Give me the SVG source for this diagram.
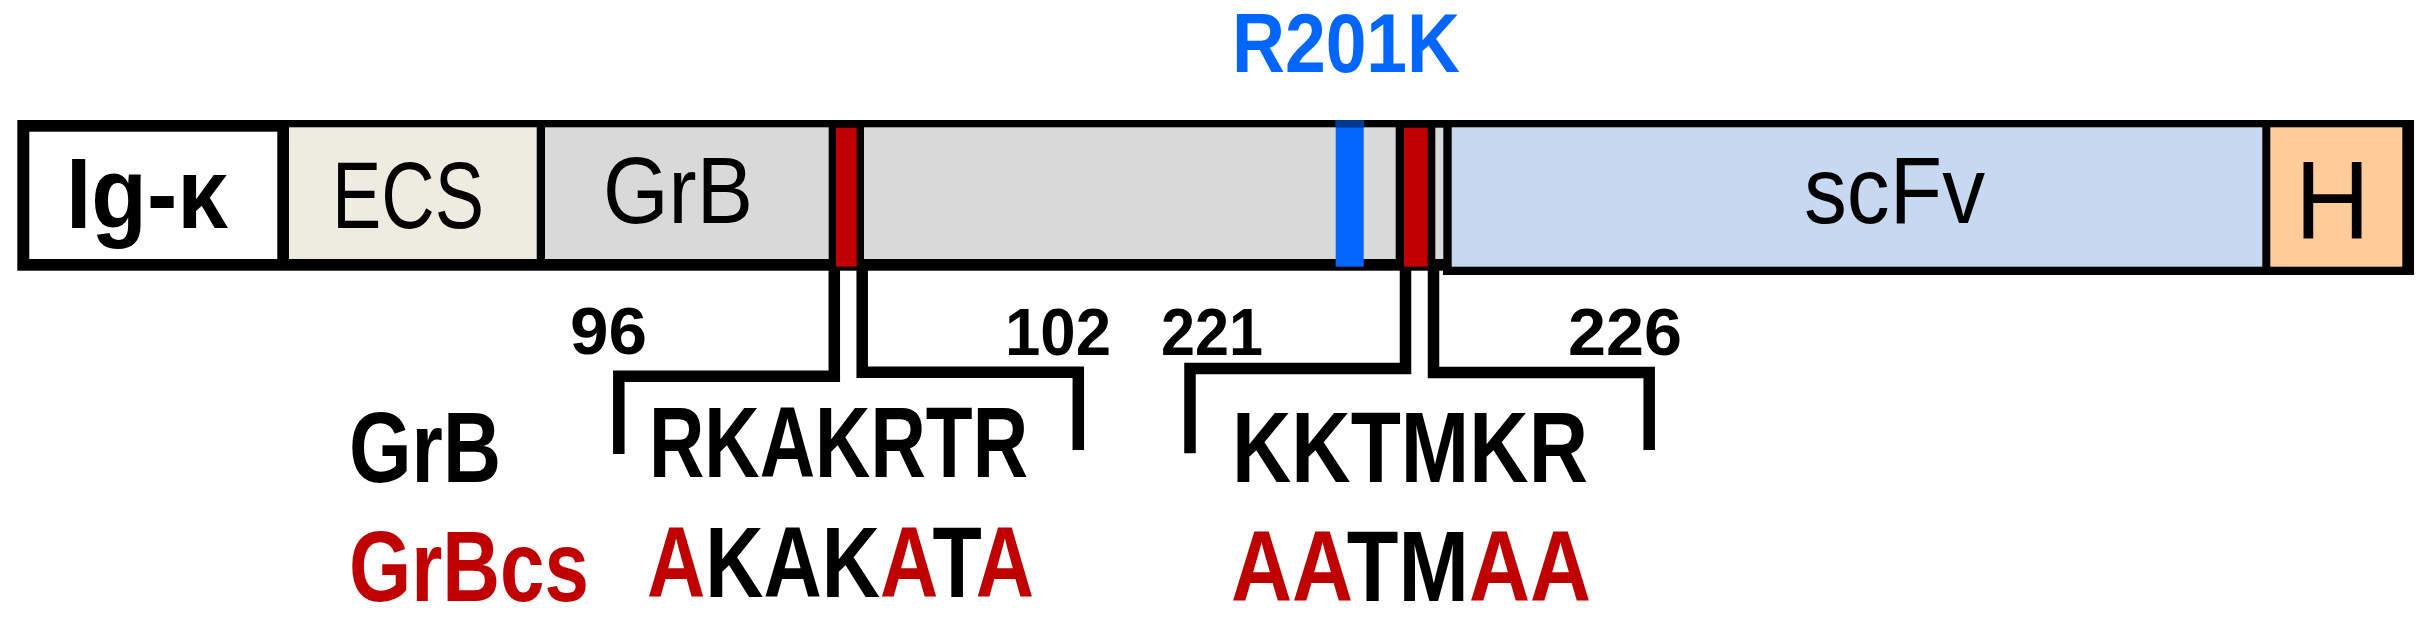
<svg xmlns="http://www.w3.org/2000/svg" width="2433" height="622" viewBox="0 0 2433 622">
<style>
.bar{fill:#000}
.t{font-family:"Liberation Sans",Arial,sans-serif}
.reg{font-weight:normal;fill:#000}
.bold{font-weight:bold;fill:#000}
.red{fill:#C00000}
.blk{fill:#000}
.conn{fill:none;stroke:#000;stroke-width:11.5;stroke-linejoin:miter;stroke-linecap:butt}
</style>
<rect width="2433" height="622" fill="#fff"/>
<g id="bar-outline">
<rect class="bar" x="17.3" y="120" width="1434.7" height="150.7"/>
<rect class="bar" x="1443" y="120" width="971" height="155"/>
</g>
<g id="node-igk">
<rect x="29.3" y="131.7" width="248" height="127.3" fill="#fff"/>
<text class="t bold" x="66" y="227.7" font-size="100" textLength="162" lengthAdjust="spacingAndGlyphs">Ig-κ</text>
</g>
<g id="node-ecs">
<rect x="289" y="127.3" width="247.7" height="131.7" fill="#EEECE1"/>
<text class="t reg" x="332" y="227.7" font-size="94" textLength="152" lengthAdjust="spacingAndGlyphs">ECS</text>
</g>
<g id="node-grb">
<rect x="545" y="127.3" width="283.7" height="131.7" fill="#D9D9D9"/>
<text class="t reg" x="603" y="223.3" font-size="95" textLength="150" lengthAdjust="spacingAndGlyphs">GrB</text>
</g>
<g id="node-site1">
<rect x="836" y="127.7" width="20.7" height="139" fill="#C00000"/>
</g>
<g id="node-linker">
<rect x="864" y="127.3" width="531.7" height="131.7" fill="#D9D9D9"/>
</g>
<g id="node-r201k">
<rect x="1335.7" y="120" width="28" height="146.7" fill="#0066FF"/>
<rect x="1335.7" y="120" width="28" height="7.5" fill="#003A8C"/>
<text class="t bold" x="1232" y="71.7" font-size="83" fill="#0066FF" textLength="228" lengthAdjust="spacingAndGlyphs" style="fill:#0066FF">R201K</text>
</g>
<g id="node-site2">
<rect x="1404" y="127.7" width="23.7" height="139" fill="#C00000"/>
<rect x="1435.3" y="127.7" width="8" height="131.3" fill="#D9D9D9"/>
</g>
<g id="node-scfv">
<rect x="1451.7" y="127.3" width="810.6" height="139.4" fill="#C6D9F1"/>
<text class="t reg" x="1804" y="223.3" font-size="95" textLength="181" lengthAdjust="spacingAndGlyphs">scFv</text>
</g>
<g id="node-h">
<rect x="2270.3" y="127.3" width="132" height="139.4" fill="#FFCC99"/>
<text class="t reg" x="2295" y="239.3" font-size="112" textLength="75" lengthAdjust="spacingAndGlyphs">H</text>
</g>
<g id="connectors">
<path class="conn" d="M834.3,270 V376.2 H618.8 V454"/>
<path class="conn" d="M862.2,270 V372.2 H1078.3 V450"/>
<path class="conn" d="M1405.5,270 V368.5 H1190 V453.3"/>
<path class="conn" d="M1433.5,270 V372.5 H1649.2 V450"/>
</g>
<g id="labels-positions">
<text class="t bold" x="570" y="354" font-size="66" textLength="77" lengthAdjust="spacingAndGlyphs">96</text>
<text class="t bold" x="1005" y="355" font-size="66" textLength="106" lengthAdjust="spacingAndGlyphs">102</text>
<text class="t bold" x="1161" y="355" font-size="66" textLength="102" lengthAdjust="spacingAndGlyphs">221</text>
<text class="t bold" x="1568" y="355" font-size="66" textLength="114" lengthAdjust="spacingAndGlyphs">226</text>
</g>
<g id="labels-rows">
<text class="t bold" x="349" y="481.7" font-size="100" textLength="152" lengthAdjust="spacingAndGlyphs">GrB</text>
<text class="t bold red" x="349" y="600.7" font-size="100" textLength="240" lengthAdjust="spacingAndGlyphs">GrBcs</text>
</g>
<g id="seq-site1">
<text class="t bold" x="649" y="477.3" font-size="100" textLength="379" lengthAdjust="spacingAndGlyphs">RKAKRTR</text>
<text class="t bold" x="647" y="596.7" font-size="100" textLength="387" lengthAdjust="spacingAndGlyphs"><tspan class="red">A</tspan><tspan class="blk">KAK</tspan><tspan class="red">A</tspan><tspan class="blk">T</tspan><tspan class="red">A</tspan></text>
</g>
<g id="seq-site2">
<text class="t bold" x="1232" y="481.7" font-size="100" textLength="356" lengthAdjust="spacingAndGlyphs">KKTMKR</text>
<text class="t bold" x="1231" y="600.7" font-size="100" textLength="360" lengthAdjust="spacingAndGlyphs"><tspan class="red">AA</tspan><tspan class="blk">TM</tspan><tspan class="red">AA</tspan></text>
</g>
</svg>
